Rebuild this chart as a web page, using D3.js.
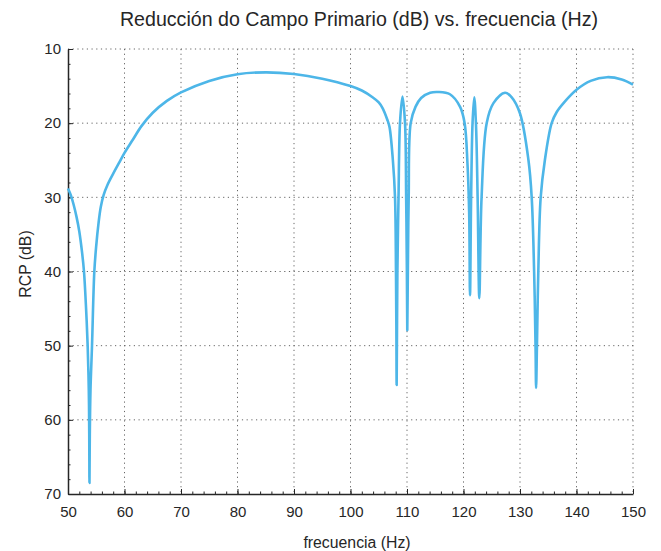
<!DOCTYPE html>
<html>
<head>
<meta charset="utf-8">
<script src="https://cdn.jsdelivr.net/npm/d3@7"></script>
<style>
body { margin: 0; background: #fff; }
svg { font-family: "Liberation Sans", Arial, sans-serif; }
.grid line { stroke: #666; stroke-dasharray: 1.2,3.5; stroke-width: 1; }
.axis path, .axis line { stroke: #262626; }
.axis text { font-size: 15px; fill: #262626; }
</style>
</head>
<body>
<svg width="661" height="551"></svg>
<script>
// frecuencia (Hz) and RCP (dB)
var freq = [50.0, 50.5, 51.0, 51.5, 52.0, 52.5, 52.83, 53.2, 53.48, 53.68, 53.76, 53.8, 53.86, 53.98, 54.25, 54.66,
  55.0, 55.4, 55.8, 56.3, 57.0, 58.0, 59.0, 60.0, 61.5, 63.0, 65.0, 67.5, 70.0, 75.0, 80.0, 85.0, 90.0, 95.0, 100.0,
  102.0, 103.9, 105.0, 105.7, 106.5, 106.9, 107.5, 107.88, 108.05, 108.12, 108.17, 108.3, 108.5, 108.76, 109.2,
  109.65, 109.85, 109.98, 110.05, 110.15, 110.3, 110.65, 111.5, 112.5, 114.1, 115.5, 117.6, 119.4, 120.2, 120.7,
  121.0, 121.15, 121.35, 121.6, 121.9, 122.2, 122.5, 122.8, 123.2, 124.1, 125.3, 127.35, 128.5, 130.0, 131.5,
  132.07, 132.5, 132.75, 132.85, 133.0, 133.24, 133.66, 134.4, 135.6, 136.5, 137.7, 140.0, 142.5, 145.4, 148.0, 150.0];
var rcp = [28.8, 29.7, 31.0, 32.6, 34.6, 37.5, 40.0, 45.0, 50.0, 56.0, 62.0, 68.5, 62.0, 56.0, 50.0, 40.0,
  36.5, 33.5, 31.3, 29.7, 28.3, 26.8, 25.4, 24.0, 22.2, 20.4, 18.6, 17.0, 15.85, 14.3, 13.4, 13.15, 13.37, 14.0, 15.0,
  15.6, 16.5, 17.2, 18.0, 19.5, 20.5, 25.0, 30.0, 40.0, 48.0, 55.3, 40.0, 30.0, 20.0, 16.4,
  20.0, 30.0, 40.0, 47.9, 40.0, 30.0, 20.0, 17.8, 16.6, 15.9, 15.8, 16.1, 17.8, 20.0, 25.4,
  32.0, 43.2, 30.0, 20.0, 16.5, 20.0, 30.0, 43.6, 30.0, 20.0, 17.3, 15.9, 16.5, 18.7, 25.0,
  30.0, 40.0, 50.0, 55.7, 50.0, 40.0, 30.0, 25.0, 20.0, 18.5, 17.3, 15.5, 14.3, 13.8, 14.1, 14.8];
var xTicks = [50, 60, 70, 80, 90, 100, 110, 120, 130, 140, 150];
var yTicks = [10, 20, 30, 40, 50, 60, 70];

var svg = d3.select("svg");
var margin = {"top": 49, "right": 28, "bottom": 57, "left": 68};
var width = +svg.attr("width") - margin.left - margin.right;
var height = +svg.attr("height") - margin.top - margin.bottom;

var g = svg.append("g").attr("transform", "translate(" + margin.left + "," + margin.top + ")");

var x = d3.scaleLinear().domain([50, 150]).range([0, width]);
var y = d3.scaleLinear().domain([10, 70]).range([0, height]);

var data = freq.map(function (f, i) { return {f: f, v: rcp[i]}; });

// grid
g.append("g").attr("class", "grid")
    .selectAll("line").data(xTicks.slice(1)).enter().append("line")
    .attr("x1", function (d) { return x(d); }).attr("x2", function (d) { return x(d); })
    .attr("y1", 0).attr("y2", height);
g.append("g").attr("class", "grid")
    .selectAll("line").data(yTicks.slice(0, -1)).enter().append("line")
    .attr("x1", 0).attr("x2", width)
    .attr("y1", function (d) { return y(d); }).attr("y2", function (d) { return y(d); });

// minor ticks
g.append("g").attr("class", "axis")
    .attr("transform", "translate(0," + height + ")")
    .call(d3.axisBottom(x).ticks(50).tickSize(-2.5).tickFormat(""))
    .select(".domain").remove();
g.append("g").attr("class", "axis")
    .call(d3.axisLeft(y).ticks(30).tickSize(-2.5).tickFormat(""))
    .select(".domain").remove();

// axes
g.append("g").attr("class", "axis")
    .attr("transform", "translate(0," + height + ")")
    .call(d3.axisBottom(x).tickValues(xTicks).tickSize(-5).tickSizeOuter(0).tickPadding(12))
    .select(".domain").attr("stroke-width", 1.5);
g.append("g").attr("class", "axis")
    .call(d3.axisLeft(y).tickValues(yTicks).tickSize(-5).tickSizeOuter(0).tickPadding(7))
    .select(".domain").attr("stroke-width", 1.5);

var line = d3.line()
    .x(function (d) { return x(d.f); })
    .y(function (d) { return y(d.v); })
    .curve(d3.curveCatmullRom.alpha(0.5));

g.append("path")
    .datum(data)
    .attr("fill", "none")
    .attr("stroke", "#4DB6E8")
    .attr("stroke-width", 2.6)
    .attr("stroke-linejoin", "round")
    .attr("d", line);

svg.append("text")
    .attr("x", 359).attr("y", 26)
    .attr("text-anchor", "middle")
    .style("font-size", "19.6px").style("fill", "#262626")
    .text("Reducción do Campo Primario (dB) vs. frecuencia (Hz)");

svg.append("text")
    .attr("x", 357).attr("y", 548)
    .attr("text-anchor", "middle")
    .style("font-size", "15.8px").style("fill", "#262626")
    .text("frecuencia (Hz)");

svg.append("text")
    .attr("transform", "translate(31,264) rotate(-90)")
    .attr("text-anchor", "middle")
    .style("font-size", "15.8px").style("fill", "#262626")
    .text("RCP (dB)");
</script>
</body>
</html>
